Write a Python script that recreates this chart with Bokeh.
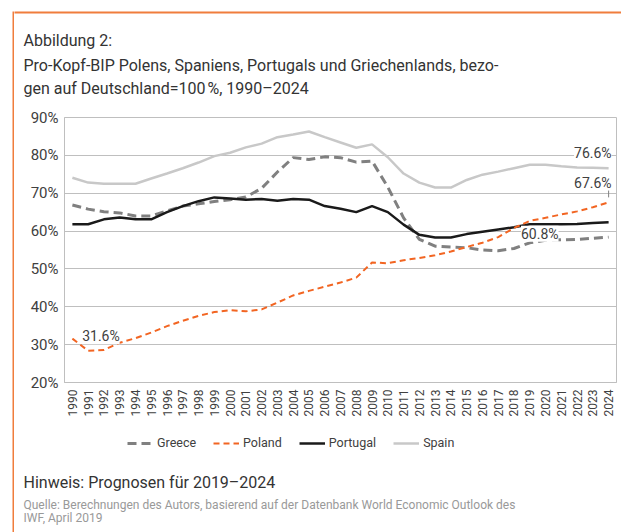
import math
from bokeh.plotting import figure
from bokeh.layouts import row, column
from bokeh.models import (FactorRange, Range1d, FixedTicker, PrintfTickFormatter,
                          Legend, LegendItem)
from bokeh.core.properties import value
from bokeh.embed import file_html
from bokeh.resources import INLINE

years = [str(y) for y in range(1990, 2025)]

greece = [66.9, 65.8, 65.1, 64.8, 64.0, 64.0, 65.3, 66.6, 67.2, 67.8,
          68.3, 69.0, 71.3, 75.6, 79.4, 78.9, 79.6, 79.4, 78.2, 78.5,
          71.6, 63.5, 57.8, 56.0, 55.8, 55.6, 55.0, 54.8, 55.4, 56.9,
          57.6, 57.7, 57.8, 58.1, 58.4]
poland = [31.6, 28.4, 28.6, 30.5, 31.7, 33.2, 34.9, 36.3, 37.6, 38.6,
          39.1, 38.8, 39.3, 41.1, 43.0, 44.2, 45.3, 46.4, 47.7, 51.7,
          51.5, 52.3, 52.9, 53.6, 54.6, 55.8, 56.9, 58.4, 60.8, 62.7,
          63.5, 64.4, 65.2, 66.3, 67.6]
portugal = [61.8, 61.8, 63.1, 63.6, 63.1, 63.1, 65.0, 66.6, 67.9, 68.9,
            68.6, 68.3, 68.5, 68.0, 68.5, 68.3, 66.6, 65.9, 65.0, 66.6,
            65.0, 61.7, 59.0, 58.3, 58.3, 59.2, 59.8, 60.4, 61.0, 61.8,
            61.8, 61.8, 61.9, 62.1, 62.3]
spain = [74.1, 72.8, 72.5, 72.5, 72.5, 73.9, 75.2, 76.6, 78.1, 79.8,
         80.7, 82.1, 83.1, 84.8, 85.5, 86.3, 84.8, 83.4, 82.0, 82.9,
         79.5, 75.2, 72.8, 71.5, 71.5, 73.5, 74.9, 75.7, 76.6, 77.5,
         77.5, 77.1, 76.8, 76.7, 76.6]

y_ticks = [20, 30, 40, 50, 60, 70, 80, 90]
series_names = ["Greece", "Poland", "Portugal", "Spain"]

title_lines = ["Abbildung 2:",
               "Pro-Kopf-BIP Polens, Spaniens, Portugals und Griechenlands, bezo-",
               "gen auf Deutschland=100\u202f%, 1990\u20132024"]
note = "Hinweis: Prognosen f\u00fcr 2019\u20132024"
source_lines = ["Quelle: Berechnungen des Autors, basierend auf der Datenbank World Economic Outlook des",
                "IWF, April 2019"]

FONT = "Roboto"
GRID = "#bfbfbf"
ORANGE = "#f07d3c"
TXT = "#333333"
styles = {
    "Greece": dict(line_color="#808080", line_width=3, line_dash="9 5"),
    "Poland": dict(line_color="#f26522", line_width=2, line_dash="6 4"),
    "Portugal": dict(line_color="#1a1a1a", line_width=2.5),
    "Spain": dict(line_color="#c8c8c8", line_width=2.5),
}

W_STRIP, W_MAIN = 14, 607
H_HEAD, H_CHART, H_FOOT = 108, 317, 107
H_TOTAL = H_HEAD + H_CHART + H_FOOT


def blank(width, height):
    f = figure(width=width, height=height, x_range=Range1d(0, width), y_range=Range1d(height, 0),
               output_backend="svg", toolbar_location=None, min_border=0,
               x_axis_location=None, y_axis_location=None, frame_align=False)
    f.grid.visible = False
    f.outline_line_color = None
    f.background_fill_color = "white"
    f.border_fill_color = "white"
    return f


# left strip with the orange frame line
strip = blank(W_STRIP, H_TOTAL)
strip.segment(x0=[13], x1=[13], y0=[11], y1=[H_TOTAL], line_color=ORANGE, line_width=2)

# header
head = blank(W_MAIN, H_HEAD)
head.segment(x0=[-1], x1=[W_MAIN], y0=[12], y1=[12], line_color=ORANGE, line_width=2)
head.text(x=[9, 9, 9], y=[40, 64.5, 88], text=title_lines, text_font=value(FONT),
          text_font_size="16px", text_color=TXT, text_baseline="alphabetic")

# chart
p = figure(width=W_MAIN, height=H_CHART, x_range=FactorRange(*years), y_range=Range1d(20, 90),
           output_backend="svg", toolbar_location=None, frame_align=False,
           min_border_left=50, min_border_right=5, min_border_top=9, min_border_bottom=43,
           background_fill_color="white", border_fill_color="white")
p.outline_line_color = GRID
p.xgrid.grid_line_color = None
p.ygrid.grid_line_color = GRID
p.yaxis.ticker = FixedTicker(ticks=y_ticks)
p.yaxis.formatter = PrintfTickFormatter(format="%d%%")
for ax in (p.xaxis, p.yaxis):
    ax.axis_line_color = GRID
    ax.major_tick_line_color = None
    ax.minor_tick_line_color = None
    ax.major_tick_out = 0
    ax.major_tick_in = 0
    ax.major_label_text_font = FONT
    ax.major_label_text_color = "#404040"
p.yaxis.minor_tick_out = 0
p.xaxis.major_label_orientation = math.pi / 2
p.xaxis.major_label_text_font_size = "12px"
p.xaxis.major_label_standoff = 7
p.yaxis.major_label_text_font_size = "15px"
p.yaxis.major_label_standoff = 6

p.line(years, spain, **styles["Spain"])
p.line(years, greece, **styles["Greece"])
p.line(years, portugal, **styles["Portugal"])
p.line(years, poland, **styles["Poland"])

lab_style = dict(text_font=value(FONT), text_font_size="14px", text_color="#404040",
                 text_baseline="middle", background_fill_color="white")
p.text(x=[years[-1]], y=[spain[-1] + 4.0], text=[f"{spain[-1]:.1f}%"],
       x_offset=3, text_align="right", **lab_style)
p.text(x=[years[-1]], y=[poland[-1] + 5.1], text=[f"{poland[-1]:.1f}%"],
       x_offset=3, text_align="right", **lab_style)
i18 = years.index("2018")
p.text(x=[years[i18 + 1]], y=[poland[i18] - 1.5], text=[f"{poland[i18]:.1f}%"],
       x_offset=10, text_align="center", **lab_style)
p.text(x=[years[1]], y=[poland[0] + 0.6], text=[f"{poland[0]:.1f}%"],
       x_offset=-6, text_align="left", **lab_style)
p.segment(x0=[years[-1]], x1=[years[-1]], y0=[poland[-1] + 1.3], y1=[poland[-1] + 3.1],
          line_color="#808080", line_width=1)

# footer with legend and notes; legend swatches use off-canvas proxy lines
foot = blank(W_MAIN, H_FOOT)
items = []
for name in series_names:
    r = foot.line(x=[-100, -90], y=[-100, -100], **styles[name])
    items.append(LegendItem(label=name, renderers=[r]))
legend = Legend(items=items, orientation="horizontal", location=(113, H_FOOT - 25),
                padding=0, margin=0, spacing=17, label_standoff=4, glyph_width=26,
                glyph_height=14, label_height=14, border_line_color=None,
                background_fill_alpha=0, label_text_font=FONT,
                label_text_font_size="12.5px", label_text_color="#404040")
foot.add_layout(legend)
foot.text(x=[9], y=[57], text=[note], text_font=value(FONT), text_font_size="16px",
          text_color=TXT, text_baseline="alphabetic")
foot.text(x=[9, 9], y=[79, 92.7], text=source_lines, text_font=value(FONT),
          text_font_size="12px", text_color="#999999", text_baseline="alphabetic")

layout = row(strip, column(head, p, foot, spacing=0), spacing=0)
open("out.html", "w").write(file_html(layout, INLINE))
